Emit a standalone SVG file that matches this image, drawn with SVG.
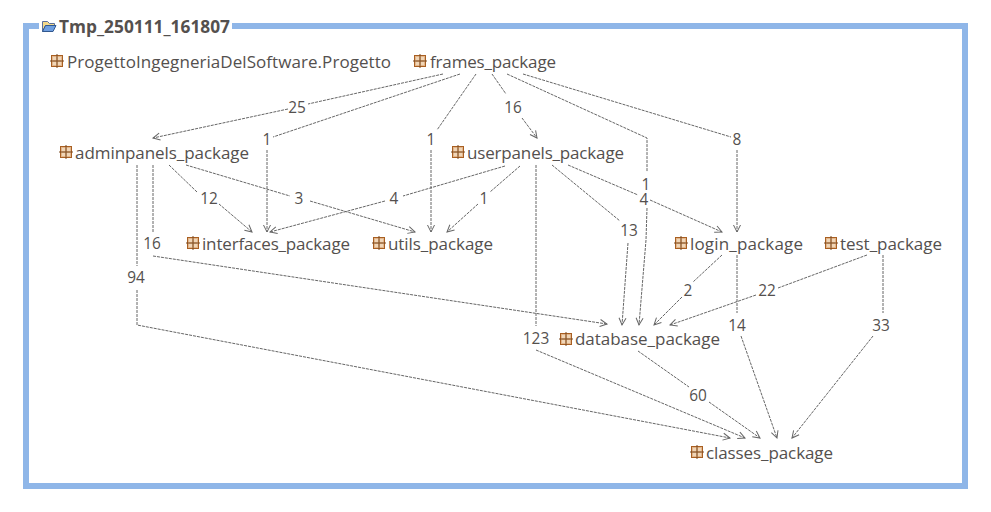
<svg xmlns="http://www.w3.org/2000/svg" width="991" height="512" viewBox="0 0 991 512">
<style>
text{font-family:"Open Sans","Noto Sans","Liberation Sans",sans-serif;fill:#54504e}
.n{font-size:17px}
.l{font-size:15.4px;text-anchor:middle}
.t{font-size:17.3px;font-weight:700}
.c path{fill:none;stroke:#666;stroke-width:1;stroke-dasharray:3 1}
.a{fill:none;stroke:#666;stroke-width:1}
</style>
<defs>
<marker id="ah" markerWidth="12" markerHeight="12" refX="8" refY="4" orient="auto" markerUnits="userSpaceOnUse" overflow="visible"><path d="M1 0.500 L8 4 L1 7.500" class="a"/></marker>
<g id="pk"><rect x="0.5" y="0.5" width="11" height="11" fill="#e3b68b" stroke="#a85f22"/><path d="M6 -1V13M-1 6H13" stroke="#7a4a20" stroke-width="1"/><rect x="2" y="2" width="3" height="3" fill="#f0d6b8"/><rect x="7" y="2" width="3" height="3" fill="#f0d6b8"/><rect x="2" y="7" width="3" height="3" fill="#f0d6b8"/><rect x="7" y="7" width="3" height="3" fill="#f0d6b8"/></g>
</defs>
<rect width="991" height="512" fill="#fff"/>
<g id="frame">
<rect x="26" y="26" width="939" height="460" fill="#fff" stroke="#8fb6e8" stroke-width="6"/>
<rect x="39" y="18" width="193" height="16" fill="#fff"/>
<path d="M42.500 21.500h5l2 2h5v2h-9l-3 6z" fill="#f4d98a" stroke="#5b6f99"/>
<path d="M42.500 31.500l3-6h10.500l-3 6z" fill="#6f9fe0" stroke="#31588f"/>
<text class="t" x="59" y="33" textLength="171">Tmp_250111_161807</text>
</g>
<g id="connectors" class="c">
<path d="M443 74L308 104M288 109L153 138" marker-end="url(#ah)"/>
<path d="M460 74L273 137M267 150V232" marker-end="url(#ah)"/>
<path d="M476 74L437 130M431 150V232" marker-end="url(#ah)"/>
<path d="M492 74L506 94M522 118L537 138" marker-end="url(#ah)"/>
<path d="M507 74L647 138V172M647 208L646 240L639 325" marker-end="url(#ah)"/>
<path d="M523 74L731 137M737 150V232" marker-end="url(#ah)"/>
<path d="M505 166L403 196M385 201L270 232" marker-end="url(#ah)"/>
<path d="M520 166L490 192M478 204L447 232" marker-end="url(#ah)"/>
<path d="M536 165V326M536 350L745 438" marker-end="url(#ah)"/>
<path d="M552 165L620 221M628 243L622 325" marker-end="url(#ah)"/>
<path d="M568 165L638 195M650 200L722 232" marker-end="url(#ah)"/>
<path d="M169 165L197 192M219 204L252 232" marker-end="url(#ah)"/>
<path d="M186 165L290 196M310 201L415 232" marker-end="url(#ah)"/>
<path d="M153 165V233M153 256L607 324" marker-end="url(#ah)"/>
<path d="M137 165V266M137 290V325L730 438" marker-end="url(#ah)"/>
<path d="M722 255L693 282M682 297L654 325" marker-end="url(#ah)"/>
<path d="M737 255V313M741 336L777 438" marker-end="url(#ah)"/>
<path d="M867 255L778 288M756 295L670 325" marker-end="url(#ah)"/>
<path d="M883 255V313M873 336L792 438" marker-end="url(#ah)"/>
<path d="M638 351L689 387M709 402L760 438" marker-end="url(#ah)"/>
</g>
<g id="labels">
<text class="l" x="297" y="113">25</text>
<text class="l" x="267" y="145">1</text>
<text class="l" x="431" y="145">1</text>
<text class="l" x="513" y="113">16</text>
<text class="l" x="646" y="190">1</text>
<text class="l" x="644" y="205">4</text>
<text class="l" x="737" y="145">8</text>
<text class="l" x="394" y="204">4</text>
<text class="l" x="484" y="204">1</text>
<text class="l" x="536" y="344">123</text>
<text class="l" x="629" y="236">13</text>
<text class="l" x="209" y="204">12</text>
<text class="l" x="299" y="204">3</text>
<text class="l" x="152" y="249">16</text>
<text class="l" x="136" y="283">94</text>
<text class="l" x="688" y="296">2</text>
<text class="l" x="737" y="331">14</text>
<text class="l" x="767" y="296">22</text>
<text class="l" x="881" y="331">33</text>
<text class="l" x="698" y="401">60</text>
</g>
<g id="node-progetto"><use href="#pk" x="51" y="55"/><text class="n" x="67" y="68" textLength="324">ProgettoIngegneriaDelSoftware.Progetto</text></g>
<g id="node-frames"><use href="#pk" x="414" y="55"/><text class="n" x="430" y="68" textLength="126">frames_package</text></g>
<g id="node-adminpanels"><use href="#pk" x="60" y="146"/><text class="n" x="75" y="159" textLength="174">adminpanels_package</text></g>
<g id="node-userpanels"><use href="#pk" x="452" y="146"/><text class="n" x="467" y="159" textLength="157">userpanels_package</text></g>
<g id="node-interfaces"><use href="#pk" x="187" y="237"/><text class="n" x="202" y="250" textLength="148">interfaces_package</text></g>
<g id="node-utils"><use href="#pk" x="373" y="237"/><text class="n" x="388" y="250" textLength="105">utils_package</text></g>
<g id="node-login"><use href="#pk" x="675" y="237"/><text class="n" x="690" y="250" textLength="113">login_package</text></g>
<g id="node-test"><use href="#pk" x="825" y="237"/><text class="n" x="840" y="250" textLength="102">test_package</text></g>
<g id="node-database"><use href="#pk" x="560" y="333"/><text class="n" x="575" y="345" textLength="145">database_package</text></g>
<g id="node-classes"><use href="#pk" x="691" y="446"/><text class="n" x="706" y="459" textLength="127">classes_package</text></g>
</svg>
